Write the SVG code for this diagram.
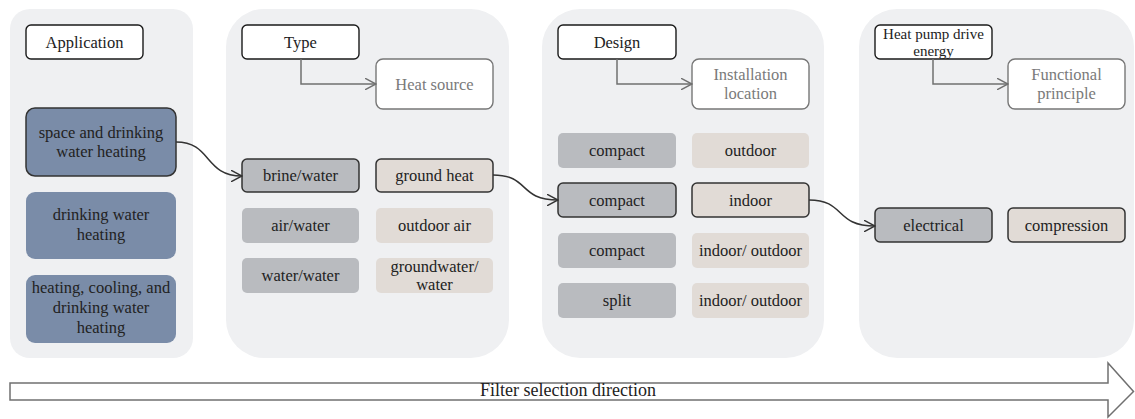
<svg xmlns="http://www.w3.org/2000/svg" width="1135" height="419" viewBox="0 0 1135 419" font-family="'Liberation Serif', 'DejaVu Serif', serif">
  <defs>
    <marker id="chevGray" viewBox="0 0 12 12" markerWidth="12" markerHeight="12" refX="11.5" refY="6" orient="auto" markerUnits="userSpaceOnUse">
      <path d="M0,0 L11.5,6 L0,12" fill="none" stroke="#707070" stroke-width="1.5"/>
    </marker>
    <marker id="chevDark" viewBox="0 0 12 12" markerWidth="12" markerHeight="12" refX="11.5" refY="6" orient="auto" markerUnits="userSpaceOnUse">
      <path d="M0,0 L11.5,6 L0,12" fill="none" stroke="#333333" stroke-width="1.5"/>
    </marker>
  </defs>
  <style>
    text { font-family: 'Liberation Serif', 'DejaVu Serif', serif; font-size: 16.5px; fill: #222222; text-anchor: middle; }
    .small { font-size: 15px; }
    .big { font-size: 18px; }
    .panel { fill: #eff0f2; }
    .head { fill: #ffffff; stroke: #1a1a1a; stroke-width: 1.4; }
    .sub { fill: #ffffff; stroke: #777777; stroke-width: 1.4; }
    .sub-t { fill: #7a7a7a; }
    .blue { fill: #7a8ca8; }
    .gray { fill: #b9bbbf; }
    .beige { fill: #e1dbd6; }
    .sel { stroke: #333333; stroke-width: 1.5; }
    .elbow { fill: none; stroke: #707070; stroke-width: 1.5; marker-end: url(#chevGray); }
    .curve { fill: none; stroke: #333333; stroke-width: 1.5; marker-end: url(#chevDark); }
  </style>

  <!-- column backgrounds -->
  <rect class="panel" x="10" y="9" width="183" height="349" rx="20"/>
  <rect class="panel" x="226" y="9" width="283" height="349" rx="38"/>
  <rect class="panel" x="542" y="9" width="282" height="349" rx="38"/>
  <rect class="panel" x="859" y="9" width="275" height="349" rx="38"/>

  <!-- Application column -->
  <g id="application">
    <rect class="head" x="26" y="25" width="117" height="34" rx="5"/>
    <text x="84.5" y="47.5">Application</text>
  </g>
  <g id="space-drinking">
    <rect class="blue sel" x="26" y="108" width="150" height="68" rx="9"/>
    <text x="101" y="138">space and drinking</text>
    <text x="101" y="157">water heating</text>
  </g>
  <g id="drinking-water">
    <rect class="blue" x="26" y="192" width="150" height="67" rx="9"/>
    <text x="101" y="220">drinking water</text>
    <text x="101" y="240">heating</text>
  </g>
  <g id="heating-cooling">
    <rect class="blue" x="26" y="275" width="150" height="68" rx="9"/>
    <text x="101" y="293">heating, cooling, and</text>
    <text x="101" y="313">drinking water</text>
    <text x="101" y="333">heating</text>
  </g>

  <!-- Type column -->
  <g id="type">
    <rect class="head" x="242" y="25" width="117" height="34" rx="5"/>
    <text x="300.5" y="47.5">Type</text>
  </g>
  <g id="heat-source">
    <rect class="sub" x="376" y="59" width="117" height="50" rx="7"/>
    <text class="sub-t" x="434.5" y="89.5">Heat source</text>
  </g>
  <g id="brine-water">
    <rect class="gray sel" x="242" y="159" width="117" height="33" rx="5"/>
    <text x="300.5" y="181">brine/water</text>
  </g>
  <g id="air-water">
    <rect class="gray" x="242" y="208" width="117" height="35" rx="5"/>
    <text x="300.5" y="231">air/water</text>
  </g>
  <g id="water-water">
    <rect class="gray" x="242" y="258" width="117" height="35" rx="5"/>
    <text x="300.5" y="281">water/water</text>
  </g>
  <g id="ground-heat">
    <rect class="beige sel" x="376" y="159" width="117" height="33" rx="5"/>
    <text x="434.5" y="181">ground heat</text>
  </g>
  <g id="outdoor-air">
    <rect class="beige" x="376" y="208" width="117" height="35" rx="5"/>
    <text x="434.5" y="231">outdoor air</text>
  </g>
  <g id="groundwater-water">
    <rect class="beige" x="376" y="258" width="117" height="35" rx="5"/>
    <text x="434.5" y="272">groundwater/</text>
    <text x="434.5" y="290">water</text>
  </g>

  <!-- Design column -->
  <g id="design">
    <rect class="head" x="558" y="25" width="118" height="34" rx="5"/>
    <text x="617" y="47.5">Design</text>
  </g>
  <g id="installation-location">
    <rect class="sub" x="692" y="59" width="117" height="50" rx="7"/>
    <text class="sub-t" x="750.5" y="80">Installation</text>
    <text class="sub-t" x="750.5" y="99">location</text>
  </g>
  <g id="compact-1">
    <rect class="gray" x="558" y="133" width="118" height="35" rx="5"/>
    <text x="617" y="156">compact</text>
  </g>
  <g id="outdoor">
    <rect class="beige" x="692" y="133" width="117" height="35" rx="5"/>
    <text x="750.5" y="156">outdoor</text>
  </g>
  <g id="compact-2">
    <rect class="gray sel" x="558" y="183" width="118" height="34" rx="5"/>
    <text x="617" y="205.5">compact</text>
  </g>
  <g id="indoor">
    <rect class="beige sel" x="692" y="183" width="117" height="34" rx="5"/>
    <text x="750.5" y="205.5">indoor</text>
  </g>
  <g id="compact-3">
    <rect class="gray" x="558" y="233" width="118" height="35" rx="5"/>
    <text x="617" y="256">compact</text>
  </g>
  <g id="indoor-outdoor-1">
    <rect class="beige" x="692" y="233" width="117" height="35" rx="5"/>
    <text x="750.5" y="256">indoor/ outdoor</text>
  </g>
  <g id="split">
    <rect class="gray" x="558" y="283" width="118" height="35" rx="5"/>
    <text x="617" y="306">split</text>
  </g>
  <g id="indoor-outdoor-2">
    <rect class="beige" x="692" y="283" width="117" height="35" rx="5"/>
    <text x="750.5" y="306">indoor/ outdoor</text>
  </g>

  <!-- Drive energy column: label sits over the box, its outline drawn last -->
  <g id="drive-energy">
    <rect x="875" y="25" width="117" height="34" rx="5" fill="#ffffff"/>
    <text class="small" x="933.5" y="39">Heat pump drive</text>
    <text class="small" x="933.5" y="55.5">energy</text>
    <rect class="head" x="875" y="25" width="117" height="34" rx="5" style="fill:none"/>
  </g>
  <g id="functional-principle">
    <rect class="sub" x="1008" y="59" width="117" height="50" rx="7"/>
    <text class="sub-t" x="1066.5" y="80">Functional</text>
    <text class="sub-t" x="1066.5" y="99">principle</text>
  </g>
  <g id="electrical">
    <rect class="gray sel" x="875" y="208" width="117" height="34" rx="5"/>
    <text x="933.5" y="230.5">electrical</text>
  </g>
  <g id="compression">
    <rect class="beige sel" x="1008" y="208" width="117" height="34" rx="5"/>
    <text x="1066.5" y="230.5">compression</text>
  </g>

  <!-- connectors -->
  <g id="connectors">
    <path class="elbow" d="M301,59 V84 H376"/>
    <path class="elbow" d="M617,59 V84 H692"/>
    <path class="elbow" d="M933,59 V84 H1008"/>
    <path class="curve" d="M176,142 C212,142 204,176 242,176"/>
    <path class="curve" d="M493,175 C530,175 518,200 558,200"/>
    <path class="curve" d="M809,200 C846,200 834,226 875,226"/>
  </g>

  <!-- direction arrow -->
  <g id="direction">
    <path d="M10,383 H1108 V363 L1133.5,391.5 L1108,417 V400 H10 Z" fill="#ffffff" stroke="#707070" stroke-width="1.5"/>
    <text class="big" x="568" y="395.5">Filter selection direction</text>
  </g>
</svg>
